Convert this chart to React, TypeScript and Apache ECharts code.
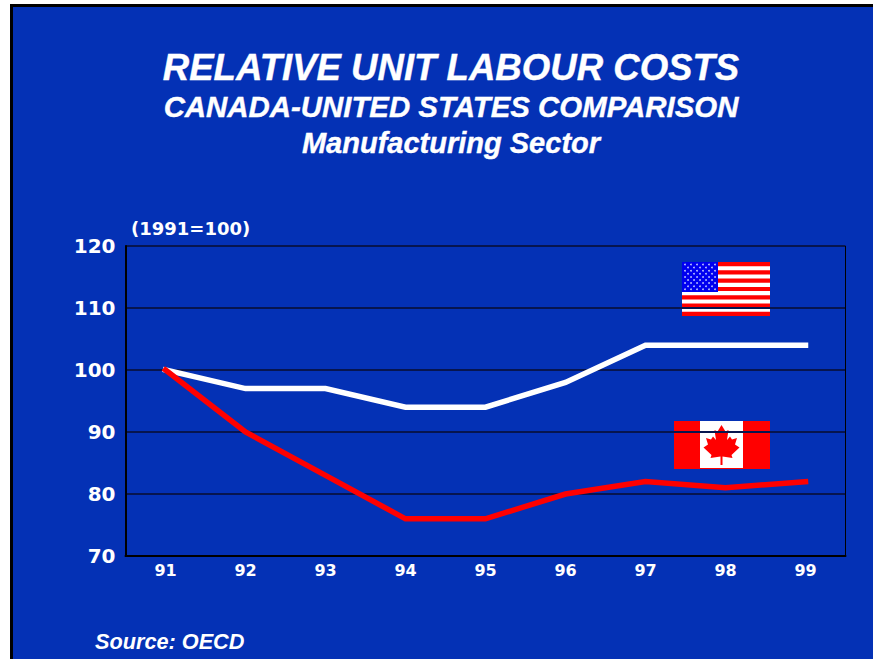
import React, { useEffect, useRef } from "react";
import * as echarts from "echarts";

const years = ["91", "92", "93", "94", "95", "96", "97", "98", "99"];
const unitedStates = [100, 97, 97, 94, 94, 98, 104, 104, 104];
const canada = [100, 90, 83, 76, 76, 80, 82, 81, 82];
const titleLines = [
  "RELATIVE UNIT LABOUR COSTS",
  "CANADA-UNITED STATES COMPARISON",
  "Manufacturing Sector",
];
const baseNote = "(1991=100)";
const sourceNote = "Source: OECD";

const PANEL = "#0431b5";
const RED = "#ff0000";
const SANS = "'Liberation Sans', Arial, sans-serif";
const WIDE = "'DejaVu Sans', 'Liberation Sans', sans-serif";

// Stars-and-stripes flag assembled from rectangles and small dots.
function usFlag(x: number, y: number, w: number, h: number) {
  const children: any[] = [
    { type: "rect", shape: { x, y, width: w, height: h }, style: { fill: RED } },
  ];
  const stripe = h / 13;
  for (let i = 1; i < 13; i += 2) {
    children.push({
      type: "rect",
      shape: { x, y: y + i * stripe, width: w, height: stripe },
      style: { fill: "#ffffff" },
    });
  }
  const cantonW = 36;
  const cantonH = 30;
  children.push({
    type: "rect",
    shape: { x, y, width: cantonW, height: cantonH },
    style: { fill: "#0000f0" },
  });
  for (let row = 0; row < 9; row++) {
    const count = row % 2 === 0 ? 6 : 5;
    for (let col = 0; col < count; col++) {
      children.push({
        type: "circle",
        shape: {
          cx: x + 3 + col * 6 + (row % 2 === 0 ? 0 : 3),
          cy: y + 2.5 + row * 3.1,
          r: 0.85,
        },
        style: { fill: "#c8d0ff" },
      });
    }
  }
  return { type: "group", silent: true, children };
}

// Maple-leaf outline relative to the leaf's tip, in pixels.
const leafOutline = [
  [0, 0], [-4, 6.5], [-7, 5], [-5.5, 15], [-8.5, 11.5], [-10.5, 14.5], [-15.5, 13],
  [-13.5, 19.5], [-18, 22.5], [-10, 30], [-11, 33], [-1, 31.5], [-1, 40], [1, 40],
  [1, 31.5], [11, 33], [10, 30], [18, 22.5], [13.5, 19.5], [15.5, 13], [10.5, 14.5],
  [8.5, 11.5], [5.5, 15], [7, 5], [4, 6.5],
];

function canadaFlag(x: number, y: number, w: number, h: number) {
  const tipX = x + 47.5;
  const tipY = y + 4;
  return {
    type: "group",
    silent: true,
    children: [
      { type: "rect", shape: { x, y, width: w, height: h }, style: { fill: RED } },
      { type: "rect", shape: { x: x + 26, y, width: 43, height: h - 1 }, style: { fill: "#ffffff" } },
      {
        type: "polygon",
        shape: { points: leafOutline.map(([px, py]) => [tipX + px, tipY + py]) },
        style: { fill: RED },
      },
    ],
  };
}

export default function App() {
  const ref = useRef<HTMLDivElement>(null);

  useEffect(() => {
    const chart = echarts.init(ref.current!, null, { renderer: "svg" });
    chart.setOption({
      animation: false,
      backgroundColor: "#ffffff",
      title: [
        { text: titleLines[0], size: 36.6, top: 49 },
        { text: titleLines[1], size: 29.4, top: 92 },
        { text: titleLines[2], size: 29, top: 128 },
      ].map((t) => ({
        text: t.text,
        left: 451,
        top: t.top,
        textAlign: "center",
        padding: 0,
        textStyle: {
          color: "#ffffff",
          fontFamily: SANS,
          fontWeight: "bold",
          fontStyle: "italic",
          fontSize: t.size,
          textBorderColor: "#ffffff",
          textBorderWidth: 0.4,
        },
      })),
      grid: { left: 125.5, top: 246, width: 720, height: 310 },
      xAxis: {
        type: "category",
        data: years,
        boundaryGap: true,
        axisLine: { show: true, lineStyle: { color: "#000000", width: 2 } },
        axisTick: { show: false },
        axisLabel: {
          color: "#ffffff",
          fontFamily: WIDE,
          fontWeight: "bold",
          fontSize: 16,
          margin: 6,
        },
        splitLine: { show: false },
      },
      yAxis: {
        type: "value",
        min: 70,
        max: 120,
        interval: 10,
        axisLine: { show: true, lineStyle: { color: "#000000", width: 2 } },
        axisTick: { show: false },
        axisLabel: {
          color: "#ffffff",
          fontFamily: WIDE,
          fontWeight: "bold",
          fontSize: 20,
          margin: 10,
          padding: [5, 0, 0, 0],
        },
        splitLine: { show: true, lineStyle: { color: "#07154f", width: 2 } },
      },
      series: [
        {
          name: "United States",
          type: "line",
          data: unitedStates,
          symbol: "none",
          z: 3,
          lineStyle: { color: "#ffffff", width: 5.5, join: "miter", cap: "square" },
        },
        {
          name: "Canada",
          type: "line",
          data: canada,
          symbol: "none",
          z: 4,
          lineStyle: { color: "#ff0000", width: 5.5, join: "miter", cap: "square" },
        },
      ],
      graphic: [
        // Slide panel with its black frame, running off the right and bottom edges.
        {
          type: "rect",
          z: -10,
          silent: true,
          shape: { x: 11.5, y: 5.5, width: 880, height: 680 },
          style: { fill: PANEL, stroke: "#000000", lineWidth: 3 },
        },
        {
          type: "rect",
          z: 6,
          silent: true,
          shape: { x: 845, y: 246, width: 1, height: 310 },
          style: { fill: "#000000" },
        },
        {
          type: "text",
          z: 6,
          x: 131,
          y: 219,
          style: {
            text: baseNote,
            fill: "#ffffff",
            font: `bold 18px ${WIDE}`,
          },
        },
        {
          type: "text",
          z: 6,
          x: 95,
          y: 630,
          style: {
            text: sourceNote,
            fill: "#ffffff",
            font: `italic bold 21.7px ${SANS}`,
          },
        },
        { ...usFlag(682, 262, 88, 54), z: 6 },
        { ...canadaFlag(674, 421, 96, 48), z: 6 },
      ],
    });
    return () => chart.dispose();
  }, []);

  return (
    <div
      ref={ref}
      style={{ position: "fixed", left: 0, top: 0, width: 873, height: 659 }}
    />
  );
}
